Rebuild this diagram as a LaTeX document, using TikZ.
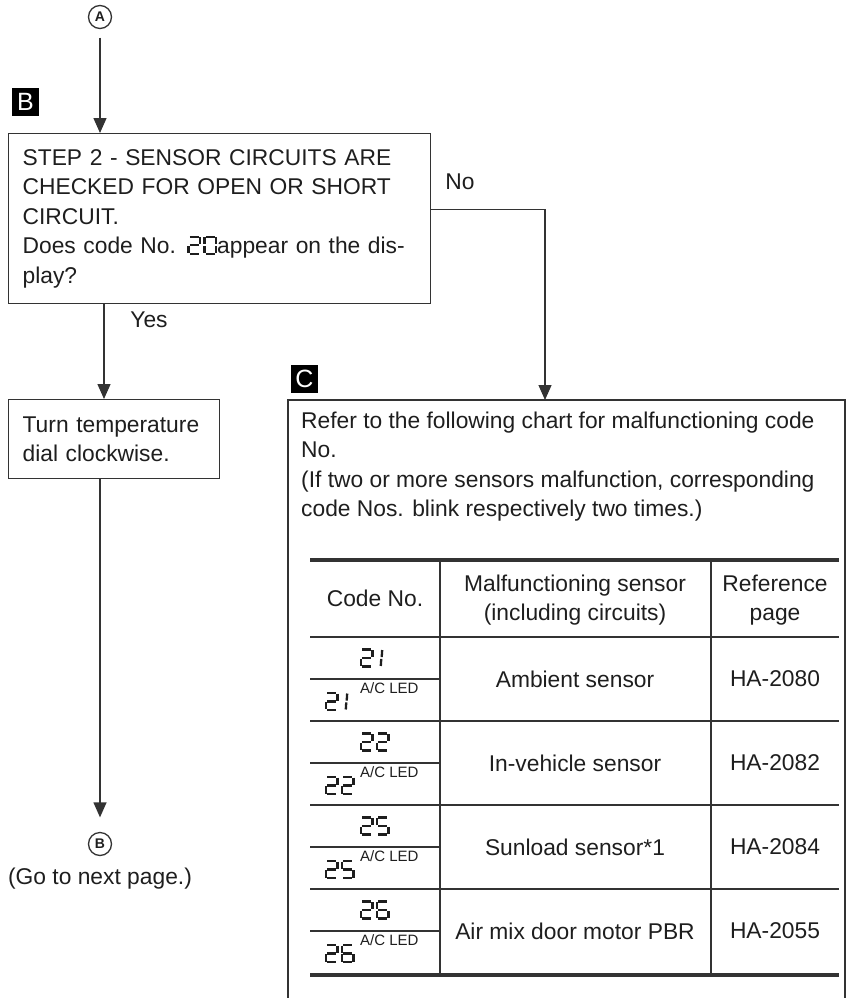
\documentclass[tikz,border=0pt]{standalone}
\usepackage{fontspec}
\setmainfont{Liberation Sans}
\usetikzlibrary{arrows.meta, positioning}
\definecolor{inkline}{HTML}{333333}
\definecolor{inktext}{HTML}{1E1E1E}

% seven segment digits, unit cell 0..1
\tikzset{
  lcdseg/.style={draw=inktext, line width=2.3pt, x=11.5pt, y=17pt},
  pics/lcd0/.style={code={\draw[lcdseg] (0.12,1)--(0.88,1) (1,0.97)--(1,0.55) (1,0.45)--(1,0.03)
      (0.12,0)--(0.88,0) (0,0.45)--(0,0.03) (0,0.97)--(0,0.55);}},
  pics/lcd1/.style={code={\draw[lcdseg] (0.45,0.97)--(0.41,0.55) (0.37,0.45)--(0.33,0.03);}},
  pics/lcd2/.style={code={\draw[lcdseg] (0.12,1)--(0.88,1) (1,0.97)--(1,0.55) (0.12,0.5)--(0.88,0.5)
      (0,0.45)--(0,0.03) (0.12,0)--(0.88,0);}},
  pics/lcd5/.style={code={\draw[lcdseg] (0.12,1)--(0.88,1) (0,0.97)--(0,0.55) (0.12,0.5)--(0.88,0.5)
      (1,0.45)--(1,0.03) (0.12,0)--(0.88,0);}},
  pics/lcd6/.style={code={\draw[lcdseg] (0.12,1)--(0.88,1) (0,0.97)--(0,0.55) (0.12,0.5)--(0.88,0.5)
      (0,0.45)--(0,0.03) (1,0.45)--(1,0.03) (0.12,0)--(0.88,0);}},
}
\newcommand{\lcd}[2]{\tikz[baseline=0pt]{\pic at (1pt,0pt) {lcd#1}; \pic at (17pt,0pt) {lcd#2};}}

\begin{document}
\begin{tikzpicture}[x=1pt, y=-1pt,
    every node/.style={text=inktext, font=\fontsize{22.8}{29.5}\selectfont},
    boxline/.style={draw=inkline, line width=1.3pt},
    stepbox/.style={boxline, rectangle, inner xsep=14pt, inner ysep=0pt, align=left, anchor=north west},
    plain/.style={inner sep=0pt},
    tag/.style={fill=black, text=white, minimum width=27pt, minimum height=28pt, inner sep=0pt,
      font=\fontsize{25}{25}\selectfont},
    circ/.style={boxline, circle, minimum size=23pt, inner sep=0pt, font=\bfseries\fontsize{14}{14}\selectfont},
    arrow/.style={boxline, -{Triangle[width=13pt, length=15pt]}},
    thinrule/.style={draw=inkline, line width=1.3pt},
    thickrule/.style={draw=inkline, line width=4pt},
    supfont/.style={inner sep=0pt, font=\fontsize{15}{15}\selectfont}]
  \useasboundingbox (0,0) rectangle (850,998);

  % flow part
  \node[circ] (circA) at (100,17) {A};
  \node[tag] (tagB) at (25.5,102) {B};
  \node[stepbox, minimum width=422pt, minimum height=170pt, text width=394pt] (step2) at (8,133)
    {STEP 2 - SENSOR CIRCUITS ARE\\CHECKED FOR OPEN OR SHORT\\CIRCUIT.\\Does code No. \lcd{2}{0}appear on the dis-\\play?};
  \node[stepbox, minimum width=211pt, minimum height=79pt, text width=183pt] (turn) at (8,399)
    {Turn temperature\\dial clockwise.};
  \node[circ] (circB) at (100,844) {B};
  \node[plain, anchor=base] (nextpage) at (100,884) {(Go to next page.)};
  \coordinate (yesx) at (104,0);
  \coordinate (ctop) at (545,400);

  \draw[arrow, shorten <=8.5pt] (circA.south) -- (step2.north -| circA);
  \draw[arrow] (step2.south -| yesx) -- (turn.north -| yesx);
  \draw[arrow, shorten >=14.5pt] (turn.south -| circB) -- (circB.north);
  \draw[arrow] ([yshift=9pt]step2.east) -| (ctop);
  \node[plain] (yes) at (149,320) {Yes};
  \node[plain] (no) at (460,182) {No};

  % chart box
  \node[tag] (tagC) at (304.5,378.5) {C};
  \draw[boxline] (288,998) |- (845,400) -- (845,998);
  \node[plain, anchor=north west, align=left] (refer) at (301,411.4)
    {Refer to the following chart for malfunctioning code\\No.\\(If two or more sensors malfunction, corresponding\\code Nos. blink respectively two times.)};

  % table
  \draw[thickrule] (310,560) -- (839,560);
  \draw[thickrule] (310,975) -- (839,975);
  \draw[thinrule] (440,560) -- (440,975) (711,560) -- (711,975);
  \foreach \y in {637,721,805,889} \draw[thinrule] (310,\y) -- (839,\y);
  \foreach \y in {679,763,847,931} \draw[thinrule] (310,\y) -- (440,\y);
  \node[plain] (hcode) at (375,598) {Code No.};
  \node[plain, align=center] (hsens) at (575,600) {Malfunctioning sensor\\(including circuits)};
  \node[plain, align=center] (hpage) at (775,600) {Reference\\page};

  \foreach \ca/\cb/\sensor/\page [count=\i from 0] in
      {2/1/Ambient sensor/HA-2080, 2/2/In-vehicle sensor/HA-2082,
       2/5/Sunload sensor*1/HA-2084, 2/6/Air mix door motor PBR/HA-2055} {
    \pgfmathsetmacro{\rt}{637+84*\i}
    \pic at (361,\rt+29.5) {lcd\ca};
    \pic at (377,\rt+29.5) {lcd\cb};
    \pic at (326,\rt+73) {lcd\ca};
    \pic at (342,\rt+73) {lcd\cb};
    \node[supfont, anchor=base west] (led\i) at (360,\rt+56) {A/C LED};
    \node[plain] (sens\i) at (575,\rt+42) {\sensor};
    \node[plain] (page\i) at (775,\rt+42) {\page};
  }
\end{tikzpicture}
\end{document}
